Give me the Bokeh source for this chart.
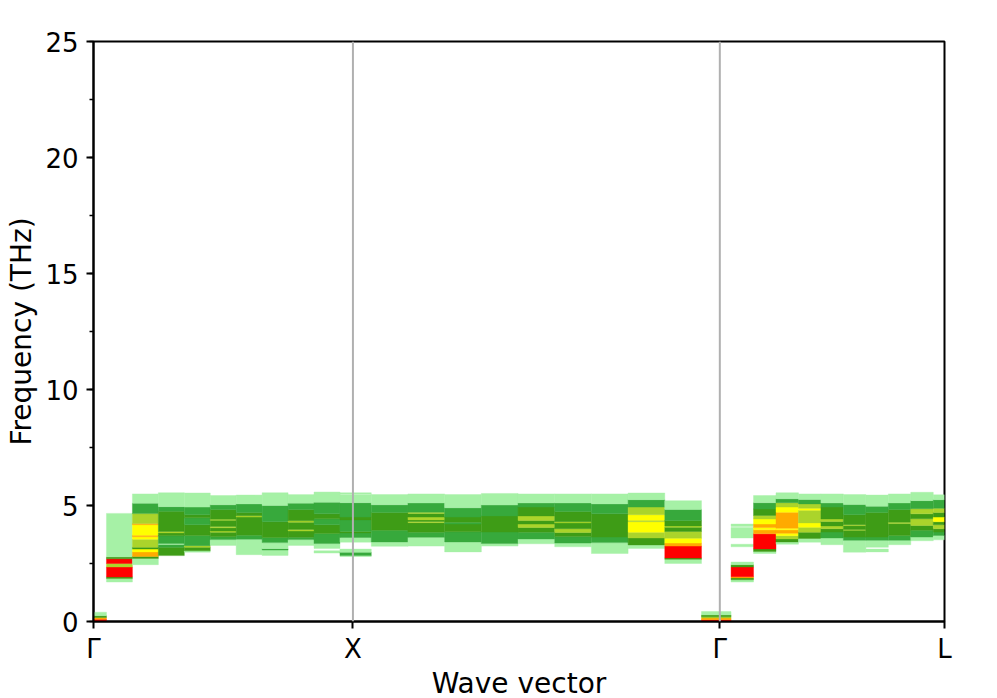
import math
from bokeh.plotting import figure
from bokeh.models import Range1d, FixedTicker, SingleIntervalTicker, Span, ColumnDataSource
from bokeh.embed import file_html
from bokeh.resources import INLINE

# ---------------- data ----------------
path_labels = ["Γ", "X", "Γ", "L"]
segment_lengths = [1.0, math.sqrt(2.0), math.sqrt(3.0) / 2.0]
divisions_per_segment = 10

freq_min, freq_max = 0, 25

# intensity level -> colour
level_colors = {
    1: "#a6f1a6",
    2: "#37a93c",
    3: "#3e9c16",
    4: "#abd42b",
    5: "#ffff00",
    6: "#ffaa00",
    7: "#ff0000",
}

# per q-point column: (freq_low, freq_high, level)
col_00 = [(0.00, 0.10, 7), (0.10, 0.17, 6), (0.17, 0.25, 3), (0.25, 0.40, 1)]
col_01 = [(1.70, 1.85, 1), (1.85, 1.92, 3), (1.92, 2.35, 7), (2.35, 2.50, 4), (2.50, 2.70, 7), (2.70, 2.78, 3), (2.78, 4.66, 1)]
col_02 = [(2.45, 2.72, 1), (2.72, 2.80, 3), (2.80, 3.00, 6), (3.00, 3.12, 5), (3.12, 3.20, 3), (3.20, 3.55, 4), (3.55, 3.65, 5), (3.65, 3.72, 6), (3.72, 4.17, 5), (4.17, 4.22, 6), (4.22, 4.65, 4), (4.65, 5.10, 2), (5.10, 5.50, 1)]
col_03 = [(2.84, 3.20, 3), (3.20, 3.32, 2), (3.32, 3.36, 1), (3.36, 3.70, 2), (3.70, 3.82, 3), (3.82, 3.88, 4), (3.88, 4.75, 3), (4.75, 4.95, 2), (4.95, 5.55, 1)]
col_04 = [(2.99, 3.05, 1), (3.05, 3.20, 3), (3.20, 3.27, 4), (3.27, 3.71, 2), (3.71, 4.17, 3), (4.17, 4.47, 2), (4.47, 4.60, 3), (4.60, 4.93, 2), (4.93, 5.54, 1)]
col_05 = [(3.28, 3.53, 1), (3.53, 3.65, 2), (3.65, 3.85, 3), (3.85, 3.90, 4), (3.90, 4.04, 3), (4.04, 4.10, 4), (4.10, 4.36, 3), (4.36, 4.41, 4), (4.41, 4.83, 3), (4.83, 5.03, 2), (5.03, 5.43, 1)]
col_06 = [(2.88, 3.55, 1), (3.55, 3.72, 2), (3.72, 4.50, 3), (4.50, 4.56, 4), (4.56, 4.70, 3), (4.70, 5.07, 2), (5.07, 5.45, 1)]
col_07 = [(2.85, 3.08, 1), (3.08, 3.14, 2), (3.14, 3.40, 1), (3.40, 3.62, 2), (3.62, 4.30, 3), (4.30, 5.00, 2), (5.00, 5.55, 1)]
col_08 = [(3.28, 3.53, 1), (3.53, 3.63, 2), (3.63, 3.90, 3), (3.90, 3.97, 4), (3.97, 4.28, 3), (4.28, 4.34, 4), (4.34, 4.83, 3), (4.83, 5.10, 2), (5.10, 5.47, 1)]
col_09 = [(2.95, 3.05, 1), (3.15, 3.36, 1), (3.36, 3.79, 2), (3.79, 4.17, 3), (4.17, 4.43, 2), (4.43, 4.64, 3), (4.64, 5.14, 2), (5.14, 5.58, 1)]
col_10 = [(2.80, 2.84, 1), (2.84, 2.98, 2), (2.98, 3.12, 1), (3.42, 3.62, 1), (3.62, 3.82, 2), (3.82, 3.88, 3), (3.88, 4.38, 2), (4.38, 4.50, 3), (4.50, 5.12, 2), (5.12, 5.45, 1), (5.47, 5.55, 1)]
col_11 = [(3.24, 3.43, 1), (3.43, 3.93, 2), (3.93, 4.70, 3), (4.70, 5.03, 2), (5.03, 5.47, 1)]
col_12 = [(3.25, 3.63, 1), (3.63, 3.85, 2), (3.85, 4.26, 3), (4.26, 4.31, 4), (4.31, 4.38, 3), (4.38, 4.50, 4), (4.50, 4.66, 3), (4.66, 4.71, 4), (4.71, 5.11, 2), (5.11, 5.50, 1)]
col_13 = [(3.00, 3.43, 1), (3.43, 3.87, 2), (3.87, 4.20, 3), (4.20, 4.28, 2), (4.28, 4.50, 3), (4.50, 4.90, 2), (4.90, 5.47, 1)]
col_14 = [(3.25, 3.36, 1), (3.36, 3.86, 2), (3.86, 4.55, 3), (4.55, 5.02, 2), (5.02, 5.52, 1)]
col_15 = [(3.35, 3.56, 1), (3.56, 3.85, 2), (3.85, 4.05, 3), (4.05, 4.20, 4), (4.20, 4.35, 3), (4.35, 4.55, 4), (4.55, 4.93, 3), (4.93, 5.11, 2), (5.11, 5.50, 1)]
col_16 = [(3.22, 3.38, 1), (3.38, 3.66, 2), (3.66, 3.84, 3), (3.84, 4.00, 4), (4.00, 4.25, 3), (4.25, 4.30, 4), (4.30, 4.74, 3), (4.74, 5.11, 2), (5.11, 5.50, 1)]
col_17 = [(2.93, 3.40, 1), (3.40, 3.64, 2), (3.64, 4.64, 3), (4.64, 5.07, 2), (5.07, 5.50, 1)]
col_18 = [(3.15, 3.30, 1), (3.30, 3.60, 3), (3.60, 3.85, 4), (3.85, 4.30, 5), (4.30, 4.36, 4), (4.36, 4.60, 5), (4.60, 4.93, 4), (4.93, 5.25, 2), (5.25, 5.54, 1)]
col_19 = [(2.50, 2.68, 1), (2.68, 2.74, 3), (2.74, 3.25, 7), (3.25, 3.38, 6), (3.38, 3.59, 5), (3.59, 3.88, 4), (3.88, 4.06, 3), (4.06, 4.12, 4), (4.12, 4.35, 3), (4.35, 4.83, 2), (4.83, 5.21, 1)]
col_20 = [(0.00, 0.08, 7), (0.08, 0.15, 6), (0.15, 0.20, 4), (0.20, 0.28, 3), (0.28, 0.43, 1)]
col_21 = [(1.70, 1.80, 1), (1.80, 1.88, 3), (1.88, 1.93, 6), (1.93, 2.35, 7), (2.35, 2.45, 3), (2.45, 2.56, 1), (3.22, 3.33, 1), (3.60, 4.05, 1), (4.10, 4.20, 1)]
col_22 = [(2.93, 3.02, 1), (3.02, 3.13, 3), (3.13, 3.78, 7), (3.78, 3.95, 6), (3.95, 4.05, 5), (4.05, 4.20, 6), (4.20, 4.42, 5), (4.42, 4.57, 4), (4.57, 4.85, 3), (4.85, 5.12, 2), (5.12, 5.43, 1)]
col_23 = [(3.33, 3.43, 1), (3.43, 3.56, 3), (3.56, 3.70, 4), (3.70, 3.80, 5), (3.80, 3.95, 6), (3.95, 4.02, 5), (4.02, 4.71, 6), (4.71, 4.93, 5), (4.93, 5.12, 4), (5.12, 5.29, 2), (5.29, 5.55, 1)]
col_24 = [(3.42, 3.58, 1), (3.58, 3.85, 3), (3.85, 4.06, 4), (4.06, 4.25, 5), (4.25, 4.80, 4), (4.80, 4.88, 5), (4.88, 5.07, 4), (5.07, 5.26, 2), (5.26, 5.50, 1)]
col_25 = [(3.31, 3.60, 1), (3.60, 3.86, 2), (3.86, 4.00, 3), (4.00, 4.12, 4), (4.12, 4.31, 3), (4.31, 4.42, 4), (4.42, 4.93, 3), (4.93, 5.11, 2), (5.11, 5.50, 1)]
col_26 = [(2.99, 3.50, 1), (3.50, 3.64, 2), (3.64, 3.93, 3), (3.93, 3.97, 4), (3.97, 4.13, 3), (4.13, 4.17, 4), (4.17, 4.60, 3), (4.60, 5.04, 2), (5.04, 5.47, 1)]
col_27 = [(3.00, 3.12, 1), (3.20, 3.50, 1), (3.50, 3.64, 2), (3.64, 4.70, 3), (4.70, 4.97, 2), (4.97, 5.45, 1)]
col_28 = [(3.31, 3.50, 1), (3.50, 3.71, 2), (3.71, 4.22, 3), (4.22, 4.28, 4), (4.28, 4.83, 3), (4.83, 5.11, 2), (5.11, 5.50, 1)]
col_29 = [(3.48, 3.64, 1), (3.64, 3.93, 2), (3.93, 4.14, 3), (4.14, 4.43, 4), (4.43, 4.64, 3), (4.64, 4.86, 4), (4.86, 5.21, 2), (5.21, 5.57, 1)]
col_30 = [(3.52, 3.71, 1), (3.71, 3.86, 2), (3.86, 4.00, 3), (4.00, 4.17, 4), (4.17, 4.30, 3), (4.30, 4.50, 5), (4.50, 4.70, 3), (4.70, 4.88, 4), (4.88, 5.25, 2), (5.25, 5.46, 1)]

columns = [col_00, col_01, col_02, col_03, col_04, col_05, col_06, col_07, col_08, col_09,
           col_10, col_11, col_12, col_13, col_14, col_15, col_16, col_17, col_18, col_19,
           col_20, col_21, col_22, col_23, col_24, col_25, col_26, col_27, col_28, col_29,
           col_30]

# ---------------- geometry from path ----------------
tick_pos = [0.0]
for L in segment_lengths:
    tick_pos.append(tick_pos[-1] + L)

q = [0.0]
for s, L in enumerate(segment_lengths):
    for i in range(1, divisions_per_segment + 1):
        q.append(tick_pos[s] + L * i / divisions_per_segment)

n = len(q)
edges_l = [q[0]] + [(q[i - 1] + q[i]) / 2 for i in range(1, n)]
edges_r = [(q[i] + q[i + 1]) / 2 for i in range(n - 1)] + [q[-1]]

left, right, bottom, top, color = [], [], [], [], []
for i, col in enumerate(columns):
    for lo, hi, lvl in col:
        left.append(edges_l[i]); right.append(edges_r[i])
        bottom.append(lo); top.append(hi)
        color.append(level_colors[lvl])

src = ColumnDataSource(dict(left=left, right=right, bottom=bottom, top=top, color=color))

# ---------------- figure ----------------
FONT = "DejaVu Sans"
TICK_FS = "26px"
LABEL_FS = "28px"

p = figure(frame_width=851, frame_height=580,
           x_range=Range1d(tick_pos[0], tick_pos[-1]), y_range=Range1d(freq_min, freq_max),
           output_backend="svg", toolbar_location=None,
           min_border_left=93, min_border_right=45, min_border_top=41, min_border_bottom=74,
           x_axis_label="Wave vector", y_axis_label="Frequency (THz)")

p.quad(left="left", right="right", bottom="bottom", top="top", source=src,
       fill_color="color", line_color="color", line_width=0.4)

for xv in tick_pos[1:-1]:
    p.add_layout(Span(location=xv, dimension="height", line_color="#b0b0b0", line_width=2))

p.grid.visible = False
p.outline_line_color = "black"
p.outline_line_width = 2
p.background_fill_color = "white"
p.border_fill_color = "white"

p.xaxis.ticker = FixedTicker(ticks=tick_pos)
p.xaxis.major_label_overrides = {t: lab for t, lab in zip(tick_pos, path_labels)}
p.yaxis.ticker = SingleIntervalTicker(interval=5, num_minor_ticks=2)

for ax in (p.xaxis[0], p.yaxis[0]):
    ax.axis_line_width = 2
    ax.major_tick_line_width = 2
    ax.minor_tick_line_width = 1.5
    ax.major_tick_in = 0
    ax.major_tick_out = 7
    ax.minor_tick_in = 0
    ax.minor_tick_out = 4
    ax.major_label_text_font = FONT
    ax.major_label_text_font_size = TICK_FS
    ax.major_label_text_color = "black"
    ax.axis_label_text_font = FONT
    ax.axis_label_text_font_size = LABEL_FS
    ax.axis_label_text_font_style = "normal"
    ax.axis_label_text_color = "black"

p.xaxis.major_label_standoff = 5
p.xaxis.axis_label_standoff = 0
p.yaxis.major_label_standoff = 8
p.yaxis.axis_label_standoff = 4

open("out.html", "w").write(file_html(p, INLINE))
